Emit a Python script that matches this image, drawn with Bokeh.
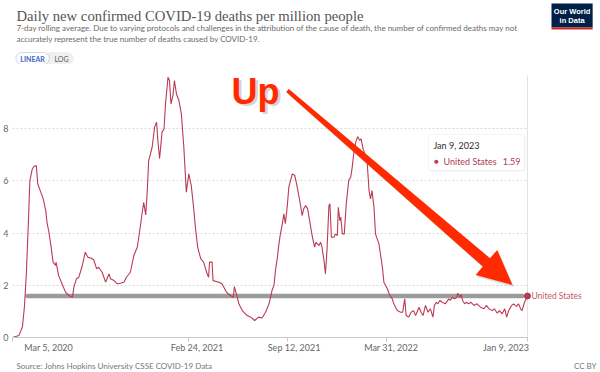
import pandas as pd
from bokeh.plotting import figure
from bokeh.layouts import column
from bokeh.models import (Label, PolyAnnotation, BoxAnnotation, FixedTicker,
                          Range1d, ColumnDataSource)
from bokeh.embed import file_html
from bokeh.resources import INLINE

# ---------------- data ----------------
start_date = "2020-03-05"
day_offsets = [0, 13, 20, 24, 28, 32, 35, 40, 43, 48, 51, 57, 62, 67, 70, 73, 77, 82, 87, 88,
               93, 100, 107, 114, 121, 124, 129, 134, 141, 147, 152, 158, 164, 170, 174, 181,
               188, 195, 198, 205, 211, 218, 225, 230, 238, 245, 252, 257, 262, 265, 269, 272,
               275, 282, 287, 291, 293, 297, 302, 306, 309, 314, 317, 320, 324, 327, 331, 336,
               341, 346, 351, 356, 361, 365, 370, 374, 380, 386, 393, 396, 398, 403, 405, 417,
               423, 432, 440, 446, 448, 454, 457, 464, 474, 481, 489, 497, 504, 511, 518, 521,
               524, 528, 531, 535, 538, 541, 545, 548, 551, 555, 558, 565, 570, 575, 580, 585,
               588, 592, 596, 600, 605, 610, 613, 619, 622, 625, 629, 632, 635, 639, 641, 644,
               649, 652, 656, 658, 661, 663, 666, 670, 674, 679, 683, 686, 689, 693, 697, 701,
               704, 708, 713, 716, 720, 723, 726, 730, 733, 740, 747, 750, 757, 762, 767, 770,
               777, 784, 788, 792, 795, 800, 805, 810, 814, 821, 825, 829, 834, 839, 844, 849,
               852, 856, 859, 863, 868, 874, 881, 884, 888, 893, 897, 899, 903, 906, 909, 913,
               917, 921, 926, 932, 938, 945, 952, 957, 962, 969, 973, 979, 983, 989, 994, 998,
               1002, 1008, 1012, 1018, 1022, 1026, 1029, 1034, 1040]
deaths_per_million = [0.0, 0.08, 0.4, 1.16, 2.45, 4.37, 6.0, 6.46, 6.55, 6.59, 5.89, 5.57, 5.31,
                      4.87, 4.36, 4.1, 3.6, 2.89, 2.76, 2.89, 2.38, 2.06, 1.74, 1.61, 1.54, 1.93,
                      2.25, 2.31, 2.76, 3.27, 3.08, 3.05, 2.98, 2.63, 2.69, 2.5, 2.12, 2.44, 2.25,
                      2.18, 2.06, 2.08, 2.12, 2.31, 2.5, 3.14, 3.46, 4.1, 4.8, 5.18, 4.7, 5.57,
                      6.78, 7.29, 8.06, 8.25, 7.67, 6.85, 7.87, 8.0, 8.95, 9.97, 9.85, 8.95, 9.27,
                      9.85, 9.34, 9.08, 8.57, 7.29, 5.57, 6.27, 5.82, 5.12, 4.1, 3.46, 3.02, 2.89,
                      2.44, 2.31, 2.89, 2.89, 2.18, 2.12, 2.06, 1.74, 1.61, 1.54, 1.95, 1.54,
                      1.29, 1.03, 0.84, 0.78, 0.65, 0.78, 0.75, 0.97, 1.29, 1.54, 1.8, 1.99, 2.57,
                      3.08, 3.59, 3.97, 4.36, 4.74, 4.36, 5.06, 5.76, 6.27, 6.21, 5.76, 5.25, 4.67,
                      4.93, 5.06, 4.93, 4.48, 3.91, 3.46, 3.65, 3.52, 3.65, 3.46, 2.95, 2.44, 3.33,
                      5.06, 5.12, 3.84, 3.84, 3.97, 3.91, 4.99, 4.48, 4.61, 3.97, 3.97, 5.12, 6.02,
                      6.14, 6.52, 7.04, 7.48, 7.7, 7.55, 7.61, 7.23, 6.97, 6.78, 5.63, 5.31, 5.63,
                      4.99, 3.97, 3.59, 2.69, 2.12, 1.87, 1.61, 1.48, 1.29, 1.03, 0.97, 0.97, 1.48,
                      0.84, 0.78, 0.97, 1.03, 0.84, 1.16, 0.97, 0.84, 1.23, 0.97, 1.1, 0.78, 1.23,
                      1.35, 1.29, 1.42, 1.35, 1.29, 1.48, 1.42, 1.54, 1.48, 1.54, 1.7, 1.54, 1.65,
                      1.42, 1.29, 1.35, 1.29, 1.35, 1.23, 1.29, 1.16, 1.1, 1.23, 1.1, 1.03, 1.1,
                      0.93, 1.03, 0.91, 1.1, 0.78, 1.03, 1.23, 1.29, 1.19, 1.29, 1.1, 1.03, 1.35,
                      1.59]
tick_dates = ["2020-03-05", "2021-02-24", "2021-09-12", "2022-03-31", "2023-01-09"]
tick_labels = ["Mar 5, 2020", "Feb 24, 2021", "Sep 12, 2021", "Mar 31, 2022", "Jan 9, 2023"]
tick_align = ["left", "center", "center", "center", "right"]
y_ticks = [0, 2, 4, 6, 8]
country = "United States"
latest_label = "Jan 9, 2023"
latest_value = 1.59
ref_line_days = [30, 1030]

title = "Daily new confirmed COVID-19 deaths per million people"
subtitle_1 = ("7-day rolling average. Due to varying protocols and challenges in the attribution "
              "of the cause of death, the number of confirmed deaths may not")
subtitle_2 = "accurately represent the true number of deaths caused by COVID-19."
source_text = "Source: Johns Hopkins University CSSE COVID-19 Data"

# ---------------- layout ----------------
W = 600
H_TOP = 64                                # header strip (page y 0..64)
FR_L, FR_B = 12, 337                      # main frame left / bottom (page px)
AX_H = 5                                  # axis line + ticks below the frame
H_FOOT = 372 - FR_B - AX_H                # footer strip: tick labels + source
PX_PER_DAY = 515 / 1040                   # Mar 5 2020 at x=12, Jan 9 2023 at x=527
PX_PER_UNIT = 262 / 10.04                 # value 0 at y=337, 10.04 at y=75
Y_PLOT_TOP = 10.04

t0 = pd.Timestamp(start_date)
DAY_MS = 86400000.0
t0_ms = t0.value / 1e6
tend_ms = t0_ms + (W - FR_L) / PX_PER_DAY * DAY_MS
y_top = (FR_B - H_TOP) / PX_PER_UNIT


def px2x(px):
    return t0_ms + (px - FR_L) / PX_PER_DAY * DAY_MS


def x2px(ms):
    return FR_L + (ms - t0_ms) / DAY_MS * PX_PER_DAY


def py2y(py):
    return (FR_B - py) / PX_PER_UNIT


LINE_COL = "#bb3a55"
SANS = "Lato"


def blank_fig(h):
    f = figure(width=W, height=h, x_range=Range1d(0, W), y_range=Range1d(h, 0),
               x_axis_location=None, y_axis_location=None,
               output_backend="svg", toolbar_location=None)
    f.min_border_left = f.min_border_right = f.min_border_top = f.min_border_bottom = 0
    f.grid.visible = False
    f.outline_line_color = None
    return f


# ---------------- header ----------------
top = blank_fig(H_TOP)
top.add_layout(Label(x=4, y=15, text=title, text_baseline="middle",
                     text_font="Liberation Serif", text_font_size="14.7px",
                     text_color="#555555"))
top.add_layout(Label(x=4, y=27, text=subtitle_1, text_baseline="middle",
                     text_font=SANS, text_font_size="8px", text_color="#6a6a6a"))
top.add_layout(Label(x=4, y=38, text=subtitle_2, text_baseline="middle",
                     text_font=SANS, text_font_size="8px", text_color="#6a6a6a"))
# LINEAR / LOG toggle
top.add_layout(BoxAnnotation(left=33, right=62, top=52, bottom=64, fill_color="#f0f0f0",
                             fill_alpha=1, line_color="#dddddd", line_width=1,
                             border_radius=6))
top.add_layout(BoxAnnotation(left=3.5, right=37.5, top=52, bottom=64, fill_color="white",
                             fill_alpha=1, line_color="#5b82d6", line_width=1,
                             border_radius=6))
top.add_layout(Label(x=20.5, y=58, text="LINEAR", text_align="center", text_baseline="middle",
                     text_font=SANS, text_font_style="bold", text_font_size="7px",
                     text_color="#3a68c8"))
top.add_layout(Label(x=50, y=58, text="LOG", text_align="center", text_baseline="middle",
                     text_font=SANS, text_font_size="7px", text_color="#5a5a5a"))
# logo
top.add_layout(BoxAnnotation(left=550, right=592, top=3, bottom=27, fill_color="#002147",
                             fill_alpha=1, line_color=None))
top.add_layout(BoxAnnotation(left=550, right=592, top=27, bottom=29, fill_color="#ce261e",
                             fill_alpha=1, line_color=None))
top.add_layout(Label(x=571, y=10.5, text="Our World", text_align="center",
                     text_baseline="middle", text_font="Liberation Sans",
                     text_font_style="bold", text_font_size="7.5px", text_color="white"))
top.add_layout(Label(x=571, y=19.5, text="in Data", text_align="center",
                     text_baseline="middle", text_font="Liberation Sans",
                     text_font_style="bold", text_font_size="7.5px", text_color="white"))

# ---------------- main chart ----------------
dates = t0 + pd.to_timedelta(day_offsets, unit="D")
src = ColumnDataSource(dict(date=dates, v=deaths_per_million))

M_H = FR_B + AX_H - H_TOP
p = figure(width=W, height=M_H, x_axis_type="datetime",
           x_range=Range1d(t0_ms, tend_ms), y_range=Range1d(0, y_top),
           output_backend="svg", toolbar_location=None)
p.min_border_left = FR_L
p.min_border_right = 0
p.min_border_top = 0
p.min_border_bottom = AX_H
p.outline_line_color = None
p.background_fill_color = "white"
p.border_fill_color = "white"

tick_ms = [pd.Timestamp(d).value / 1e6 for d in tick_dates]
p.xaxis.ticker = FixedTicker(ticks=tick_ms)
p.xaxis.major_label_overrides = {t: "" for t in tick_ms}   # labels drawn in the footer strip
p.xaxis.major_label_text_font_size = "0px"
p.xaxis.major_label_standoff = 0
p.xaxis.bounds = (t0_ms, tick_ms[-1])
p.xaxis.axis_line_color = "#c8c8c8"
p.xaxis.major_tick_line_color = "#c8c8c8"
p.xaxis.major_tick_out = 4
p.xaxis.major_tick_in = 0
p.xaxis.minor_tick_line_color = None

p.yaxis.ticker = FixedTicker(ticks=y_ticks)
p.yaxis.axis_line_color = None
p.yaxis.major_tick_line_color = None
p.yaxis.minor_tick_line_color = None
p.yaxis.major_tick_out = 0
p.yaxis.major_tick_in = 0
p.yaxis.major_label_standoff = 4
p.yaxis.major_label_text_font = SANS
p.yaxis.major_label_text_font_size = "9px"
p.yaxis.major_label_text_color = "#666666"

p.xgrid.grid_line_color = None
p.ygrid.ticker = FixedTicker(ticks=y_ticks[1:])
p.ygrid.grid_line_color = "#d9d9d9"
p.ygrid.grid_line_dash = "2 2"
try:
    p.ygrid.cross_bounds = (t0_ms, tick_ms[-1])
except Exception:
    p.ygrid.grid_line_color = None
    p.segment(x0=[t0_ms] * 4, x1=[tick_ms[-1]] * 4, y0=y_ticks[1:], y1=y_ticks[1:],
              line_color="#d9d9d9", line_dash="2 2", line_width=1)

# hover line at the latest date
p.segment(x0=[tick_ms[-1]], x1=[tick_ms[-1]], y0=[0], y1=[Y_PLOT_TOP],
          line_color="#e2e2e2", line_width=1)

# grey reference line at the latest value
ref_dates = t0 + pd.to_timedelta(ref_line_days, unit="D")
p.line(x=ref_dates, y=[latest_value] * 2, line_width=4.5, line_color="#9b9b9b",
       line_cap="round")

# data line + end point + label
p.line(x="date", y="v", source=src, line_color=LINE_COL, line_width=1.1)
p.scatter(x=[dates[-1]], y=[deaths_per_million[-1]], size=6, fill_color=LINE_COL,
          line_color="#8e2a40", line_width=0.8)
p.add_layout(Label(x=tick_ms[-1], y=deaths_per_million[-1], x_offset=4, text=country,
                   text_baseline="middle", text_font=SANS, text_font_size="8.5px",
                   text_color="#c4566e"))

# tooltip
p.add_layout(BoxAnnotation(left=px2x(429), right=px2x(525), top=py2y(135), bottom=py2y(171),
                           fill_color="#d8d8d8", fill_alpha=0.35, line_color=None,
                           border_radius=2))
p.add_layout(BoxAnnotation(left=px2x(428), right=px2x(524), top=py2y(134), bottom=py2y(170),
                           fill_color="white", fill_alpha=1, line_color="#dddddd",
                           line_width=1, border_radius=2))
p.add_layout(Label(x=px2x(433), y=py2y(145), text=latest_label, text_baseline="middle",
                   text_font=SANS, text_font_size="9px", text_color="#2b2b2b"))
p.add_layout(Label(x=px2x(436), y=py2y(160.5), text="\u25cf", text_align="center",
                   text_baseline="middle", text_font=SANS, text_font_size="8px",
                   text_color=LINE_COL))
p.add_layout(Label(x=px2x(443), y=py2y(160.5), text=country, text_baseline="middle",
                   text_font=SANS, text_font_size="9px", text_color="#b13a55"))
p.add_layout(Label(x=px2x(520), y=py2y(160.5), text=f"{latest_value:.2f}",
                   text_align="right", text_baseline="middle", text_font=SANS,
                   text_font_size="9px", text_color="#b13a55"))

# red arrow (hand-drawn annotation in the original)
arrow_px = [(288.3, 88.5), (489.5, 257.7), (496.7, 249.4), (512, 284.5),
            (475.1, 274.4), (482.3, 266.1), (285.7, 91.5)]
p.add_layout(PolyAnnotation(xs=[px2x(a + 1.5) for a, b in arrow_px],
                            ys=[py2y(b + 2) for a, b in arrow_px],
                            fill_color="#777777", fill_alpha=0.25, line_color=None))
p.add_layout(PolyAnnotation(xs=[px2x(a) for a, b in arrow_px],
                            ys=[py2y(b) for a, b in arrow_px],
                            fill_color="#ff2a00", fill_alpha=1, line_color=None))

# "Up"
p.add_layout(Label(x=px2x(233.5), y=py2y(92.5), text="Up", text_font="Liberation Sans",
                   text_font_style="bold", text_font_size="36px", text_color="#aaaaaa",
                   text_alpha=0.5, text_baseline="alphabetic"))
p.add_layout(Label(x=px2x(231), y=py2y(90.5), text="Up", text_font="Liberation Sans",
                   text_font_style="bold", text_font_size="36px", text_color="#ff2a00",
                   text_baseline="alphabetic"))

# ---------------- footer: date tick labels + source ----------------
FOOT_Y0 = FR_B + AX_H
foot = blank_fig(H_FOOT)
for t, lab, al in zip(tick_ms, tick_labels, tick_align):
    foot.add_layout(Label(x=x2px(t), y=347 - FOOT_Y0, text=lab, text_align=al,
                          text_baseline="middle", text_font=SANS, text_font_size="9px",
                          text_color="#666666"))
foot.add_layout(Label(x=4, y=365 - FOOT_Y0, text=source_text, text_baseline="middle",
                      text_font=SANS, text_font_size="8px", text_color="#777777"))
foot.add_layout(Label(x=596, y=365 - FOOT_Y0, text="CC BY", text_align="right",
                      text_baseline="middle", text_font=SANS, text_font_size="8px",
                      text_color="#777777"))

layout = column(top, p, foot, spacing=0)
open("out.html", "w").write(file_html(layout, INLINE))
